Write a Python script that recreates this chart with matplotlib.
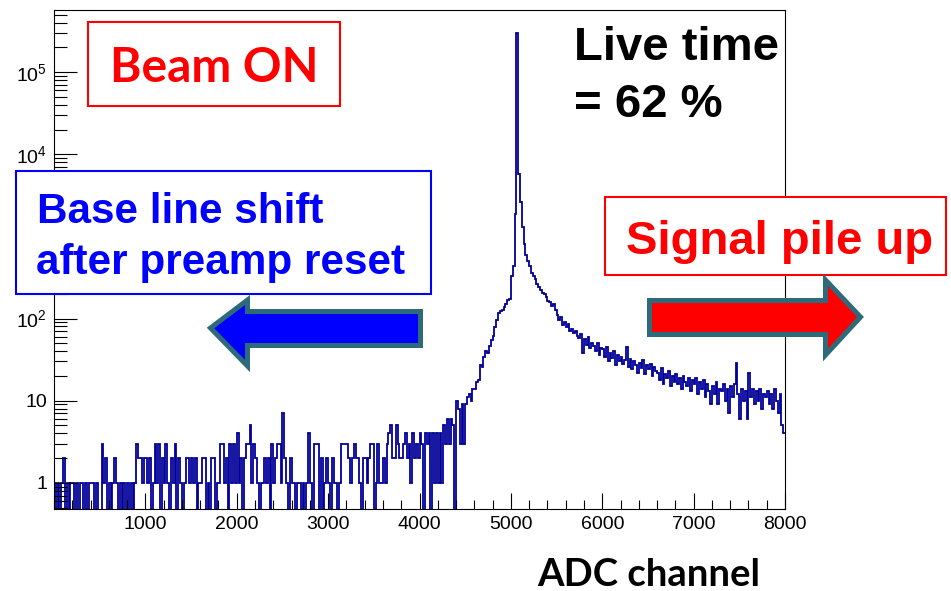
import numpy as np
import matplotlib
matplotlib.use('Agg')
import matplotlib.pyplot as plt
from matplotlib.patches import Rectangle, Polygon
from matplotlib.ticker import MultipleLocator, LogLocator, NullFormatter

# histogram: 400 bins of 20 ADC channels, 0..8000
bin_width = 20
x_max = 8000

# low region 0-4400, one digit per bin (counts are small there)
low_counts = (
    "1010120101" "1010110101" "1101003120" "1012101010"
    "1010132212" "2120131302" "1310213021" "0122121201"
    "1220102201" "1331203131" "4120233513" "2101121203"
    "1233172102" "1101101014" "1033302012" "1021101333"
    "3212322102" "2123301311" "2134522532" "2342314232"
    "4304340414" "1415363650"
)

# 4400-8000: rise, main peak near 5070, pile-up tail
high_counts = [
    10, 8, 3, 9, 3,
    9, 11, 12, 10, 14,
    14, 17, 18, 27, 26,
    34, 40, 38, 46, 55,
    62, 78, 95, 118, 122,
    126, 140, 150, 168, 172,
    330, 430, 1850, 300000, 5700,
    2600, 1300, 800, 600, 500, 430, 360, 330, 300, 265,
    240, 225, 205, 200, 182, 165, 158, 142, 150, 128,
    110, 96, 104, 84, 90,
    78, 86, 70, 74, 66,
    70, 62, 58, 64, 38,
    56, 48, 60, 44, 50,
    46, 40, 50, 36, 44,
    42, 34, 45, 30, 38,
    33, 40, 27, 36, 30,
    34, 28, 31, 45, 26,
    32, 24, 30, 27, 22,
    29, 25, 31, 21, 27,
    24, 28, 20, 26, 23,
    22, 18, 25, 16, 21,
    19, 23, 15, 20, 17,
    21, 16, 19, 14, 20,
    17, 15, 19, 13, 18,
    16, 19, 12, 17, 14,
    18, 11, 16, 13, 9,
    15, 12, 17, 9, 14,
    13, 16, 10, 14, 7,
    15, 11, 16, 29, 12,
    6, 14, 10, 13, 6,
    22, 11, 14, 9, 13,
    10, 14, 8, 12, 11,
    13, 9, 12, 8, 14,
    10, 7, 12, 5, 4,
]

x_ticks = [1000, 2000, 3000, 4000, 5000, 6000, 7000, 8000]
y_ticks = [1, 10, 100, 1000, 1e4, 1e5]
y_tick_labels = ['1', '10', '$10^{2}$', '$10^{3}$', '$10^{4}$', '$10^{5}$']

counts = np.array([int(c) for c in low_counts] + high_counts, dtype=float)
edges = np.arange(0, x_max + bin_width, bin_width)

W, H = 951, 591
plt.rcParams['font.family'] = ['Liberation Sans', 'DejaVu Sans']
plt.rcParams['mathtext.default'] = 'regular'

fig = plt.figure(figsize=(W / 100, H / 100), dpi=100)
ax = fig.add_axes([54 / W, (H - 509) / H, (785 - 54) / W, (509 - 10) / H])

# empty bins go below the axis like ROOT does on a log scale
ax.stairs(np.where(counts > 0, counts, 1e-2), edges, baseline=None,
          color='#000099', lw=1.3)
ax.set_yscale('log')
ax.set_xlim(0, x_max)
ax.set_ylim(0.48, 5.7e5)

ax.set_xticks(x_ticks)
ax.set_xticklabels([str(t) for t in x_ticks])
ax.xaxis.set_minor_locator(MultipleLocator(200))
ax.set_yticks(y_ticks)
ax.set_yticklabels(y_tick_labels)
ax.yaxis.set_minor_locator(LogLocator(base=10, subs=np.arange(2, 10), numticks=30))
ax.yaxis.set_minor_formatter(NullFormatter())

ax.tick_params(which='both', direction='in', top=False, right=False, width=0.8)
ax.tick_params(axis='y', which='major', length=16.5, pad=5, labelsize=14)
ax.tick_params(axis='y', which='minor', length=9.4)
ax.tick_params(axis='x', which='major', length=11.5, pad=5, labelsize=14)
ax.tick_params(axis='x', which='minor', length=6.5)
for s in ax.spines.values():
    s.set_linewidth(0.8)


def fx(x):
    return x / W


def fy(y):
    return 1 - y / H


def box(x0, y0, x1, y1, color):
    fig.add_artist(Rectangle((fx(x0), fy(y1)), (x1 - x0) / W, (y1 - y0) / H,
                             transform=fig.transFigure, fc='white', ec=color,
                             lw=1.5, zorder=5))


def label(x, y, s, color, size, family='Liberation Sans'):
    fig.text(fx(x), fy(y), s, color=color, fontsize=size, fontweight='bold',
             family=family, ha='left', va='baseline', zorder=6)


def arrow(pts, color):
    fig.add_artist(Polygon([(fx(px), fy(py)) for px, py in pts], closed=True,
                           transform=fig.transFigure, fc=color, ec='#2d6b7a',
                           lw=3.6, joinstyle='miter', zorder=5))


# annotations
box(88, 22, 340, 106, '#ff0000')
label(110, 82, 'Beam ON', '#ff0000', 34.5, family='Lato')

box(16, 171, 431, 294, '#0000ff')
label(37, 223, 'Base line shift', '#0000ff', 30.4)
label(36, 274, 'after preamp reset', '#0000ff', 30.4)

label(574, 60, 'Live time', 'black', 34)
label(574, 117, '= 62 %', 'black', 34)

box(605, 197, 946, 275, '#ff0000')
label(626, 254, 'Signal pile up', '#ff0000', 34)

arrow([(210.5, 328), (247.5, 300), (247.5, 311.5), (420.5, 311.5),
       (420.5, 345.5), (247.5, 345.5), (247.5, 366)], '#0000ff')
arrow([(649.5, 300.5), (825.5, 300.5), (825.5, 280), (860.5, 317),
       (825.5, 355), (825.5, 334.5), (649.5, 334.5)], '#ff0000')

label(537, 586, 'ADC channel', 'black', 27.5, family='Lato')

fig.savefig('out.png', dpi=100)
